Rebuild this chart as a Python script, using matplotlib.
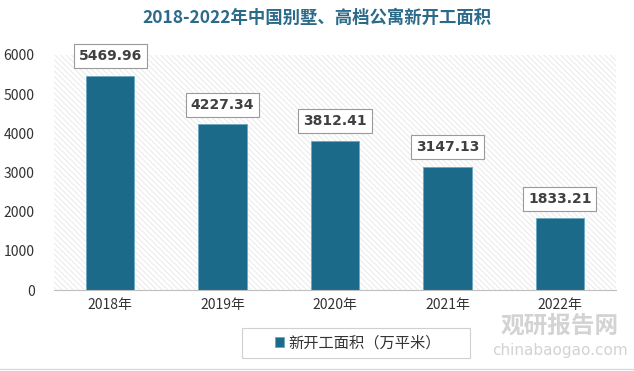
import matplotlib.pyplot as plt
from matplotlib.patches import Rectangle

plt.rcParams['font.family'] = ['Noto Sans CJK SC', 'DejaVu Sans']
plt.rcParams['hatch.linewidth'] = 0.8

years = ['2018年', '2019年', '2020年', '2021年', '2022年']
area = [5469.96, 4227.34, 3812.41, 3147.13, 1833.21]
yticks = [0, 1000, 2000, 3000, 4000, 5000, 6000]

bar_color = '#1b6a8a'

fig = plt.figure(figsize=(6.34, 3.71), dpi=100)
ax = fig.add_axes([54/634, 1-290/371, (616-54)/634, (290-55)/371])

# hatched plot area background
bg = Rectangle((0, 0), 1, 1, transform=ax.transAxes, facecolor='white',
               edgecolor='#ececec', hatch='\\\\\\\\\\\\', linewidth=0, zorder=0)
ax.add_patch(bg)

x = range(len(years))
ax.bar(x, area, width=0.43, color=bar_color, edgecolor='#6aa9c2', linewidth=0.6,
       zorder=2, label='新开工面积（万平米）')

for i, v in enumerate(area):
    ax.annotate(f'{v:.2f}', (i, v), xytext=(0, 9), textcoords='offset points',
                ha='center', va='bottom', fontsize=10, fontweight='bold', color='#404040',
                family=['DejaVu Sans'],
                bbox=dict(boxstyle='square,pad=0.35', fc='white', ec='#9a9a9a', lw=0.8),
                zorder=4)

ax.set_xlim(-0.5, len(years) - 0.5)
ax.set_ylim(0, 6000)
ax.set_yticks(yticks)
ax.set_xticks(list(x))
ax.set_xticklabels(years)
ax.tick_params(axis='both', length=0, labelsize=10, colors='#333333')
ax.tick_params(axis='y', pad=14)
ax.tick_params(axis='x', pad=6)
for s in ['top', 'right', 'left']:
    ax.spines[s].set_visible(False)
ax.spines['bottom'].set_color('#bfbfbf')

fig.text(0.5, 1-18/371, '2018-2022年中国别墅、高档公寓新开工面积', ha='center', va='center',
         fontsize=12.5, fontweight='bold', color='#2c6a8a')

# legend with a wide frame like the reference
leg = fig.legend(loc='center', bbox_to_anchor=(358/634, 1-343/371), fontsize=11,
                 frameon=False, handlelength=0.6, handleheight=0.6,
                 handletextpad=0.3)
for t in leg.get_texts():
    t.set_color('#333333')
fig.add_artist(Rectangle((242/634, 1-358/371), 228/634, 30/371, transform=fig.transFigure,
                         fill=False, edgecolor='#d0d0d0', linewidth=0.8))

# watermark
fig.text(560/634, 1-326/371, '观研报告网', ha='center', va='center', fontsize=17,
         fontweight='bold', color='#c8c8c8', alpha=0.8, zorder=5)
fig.text(560/634, 1-350/371, 'chinabaogao.com', ha='center', va='center', fontsize=11,
         color='#c8c8c8', alpha=0.8, zorder=5, family=['DejaVu Sans'])

fig.add_artist(plt.Line2D([0, 1], [2/371, 2/371], color='#d8d8d8', lw=1))

fig.savefig('out.png', dpi=100)
